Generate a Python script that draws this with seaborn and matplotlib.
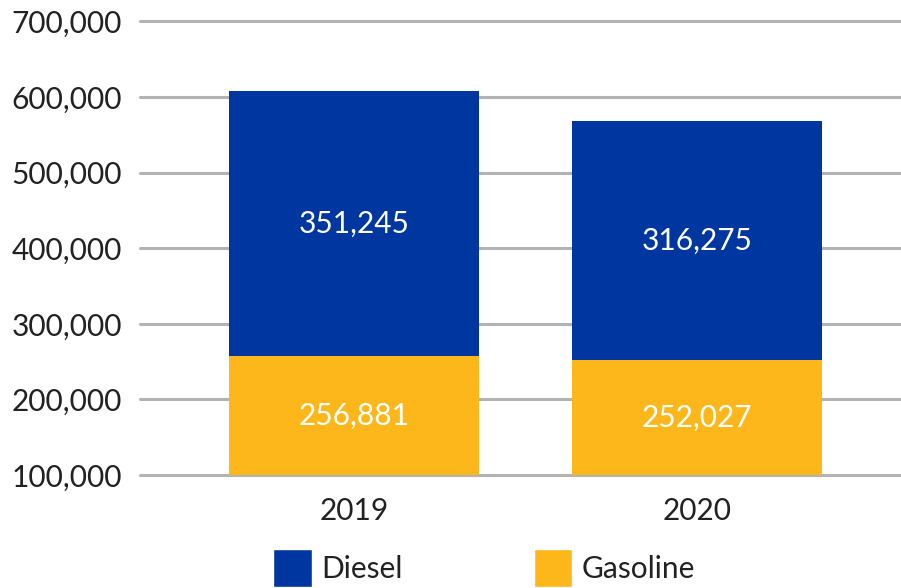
import matplotlib
matplotlib.use("Agg")
import matplotlib.pyplot as plt
from matplotlib.patches import Patch
from matplotlib.ticker import FuncFormatter
import pandas as pd
import seaborn as sns

# Fuel volumes by year
years = ["2019", "2020"]
gasoline = [256881, 252027]
diesel = [351245, 316275]
y_ticks = [100000, 200000, 300000, 400000, 500000, 600000, 700000]

diesel_color = "#0036A0"
gasoline_color = "#FDB71A"
text_color = "#222222"
grid_color = "#B3B3B3"

sns.set_theme(style="white")
plt.rcParams["font.family"] = ["Lato", "DejaVu Sans"]

df = pd.DataFrame({"year": years, "gasoline": gasoline, "diesel": diesel})
df["total"] = df["gasoline"] + df["diesel"]

fig = plt.figure(figsize=(9.01, 5.88), dpi=100)
ax = fig.add_axes([140 / 901, 1 - 475 / 588, 1 - 140 / 901, (475 - 21.5) / 588])

# Stacked bars: full total in diesel colour, gasoline drawn over the lower part
sns.barplot(data=df, x="year", y="total", color=diesel_color, width=0.73,
            saturation=1, linewidth=0, ax=ax, zorder=2)
sns.barplot(data=df, x="year", y="gasoline", color=gasoline_color, width=0.73,
            saturation=1, linewidth=0, ax=ax, zorder=3)

ax.set_ylim(y_ticks[0], y_ticks[-1])
ax.set_xlim(-0.624, 1.595)
ax.set_yticks(y_ticks)
ax.yaxis.set_major_formatter(FuncFormatter(lambda v, p: f"{int(v):,}"))
ax.grid(axis="y", color=grid_color, linewidth=2.2, zorder=0)
ax.set_axisbelow(True)
for gl in ax.get_ygridlines():
    gl.set_clip_on(False)
ax.grid(axis="x", visible=False)
for s in ax.spines.values():
    s.set_visible(False)
ax.tick_params(axis="y", length=0, pad=13, labelsize=21.5, labelcolor=text_color)
ax.tick_params(axis="x", length=0, pad=16, labelsize=21.5, labelcolor=text_color)
ax.set_xlabel("")
ax.set_ylabel("")

# Value labels centred in the visible part of each segment
lo = ax.get_ylim()[0]
for i, (g, d) in enumerate(zip(gasoline, diesel)):
    ax.text(i, (lo + g) / 2, f"{g:,}", ha="center", va="center", color="white",
            fontsize=21.5, zorder=5)
    ax.text(i, g + d / 2, f"{d:,}", ha="center", va="center", color="white",
            fontsize=21.5, zorder=5)

handles = [Patch(facecolor=diesel_color, label="Diesel"),
           Patch(facecolor=gasoline_color, label="Gasoline")]
fig.legend(handles=handles, loc="center left", bbox_to_anchor=(273 / 901, 1 - 568 / 588),
           ncol=2, frameon=False, handlelength=1.3, handleheight=1.62,
           handletextpad=0.3, columnspacing=4.4, labelcolor=text_color,
           prop={"size": 21.5}, borderpad=0, borderaxespad=0)

fig.savefig("out.png", dpi=100)
